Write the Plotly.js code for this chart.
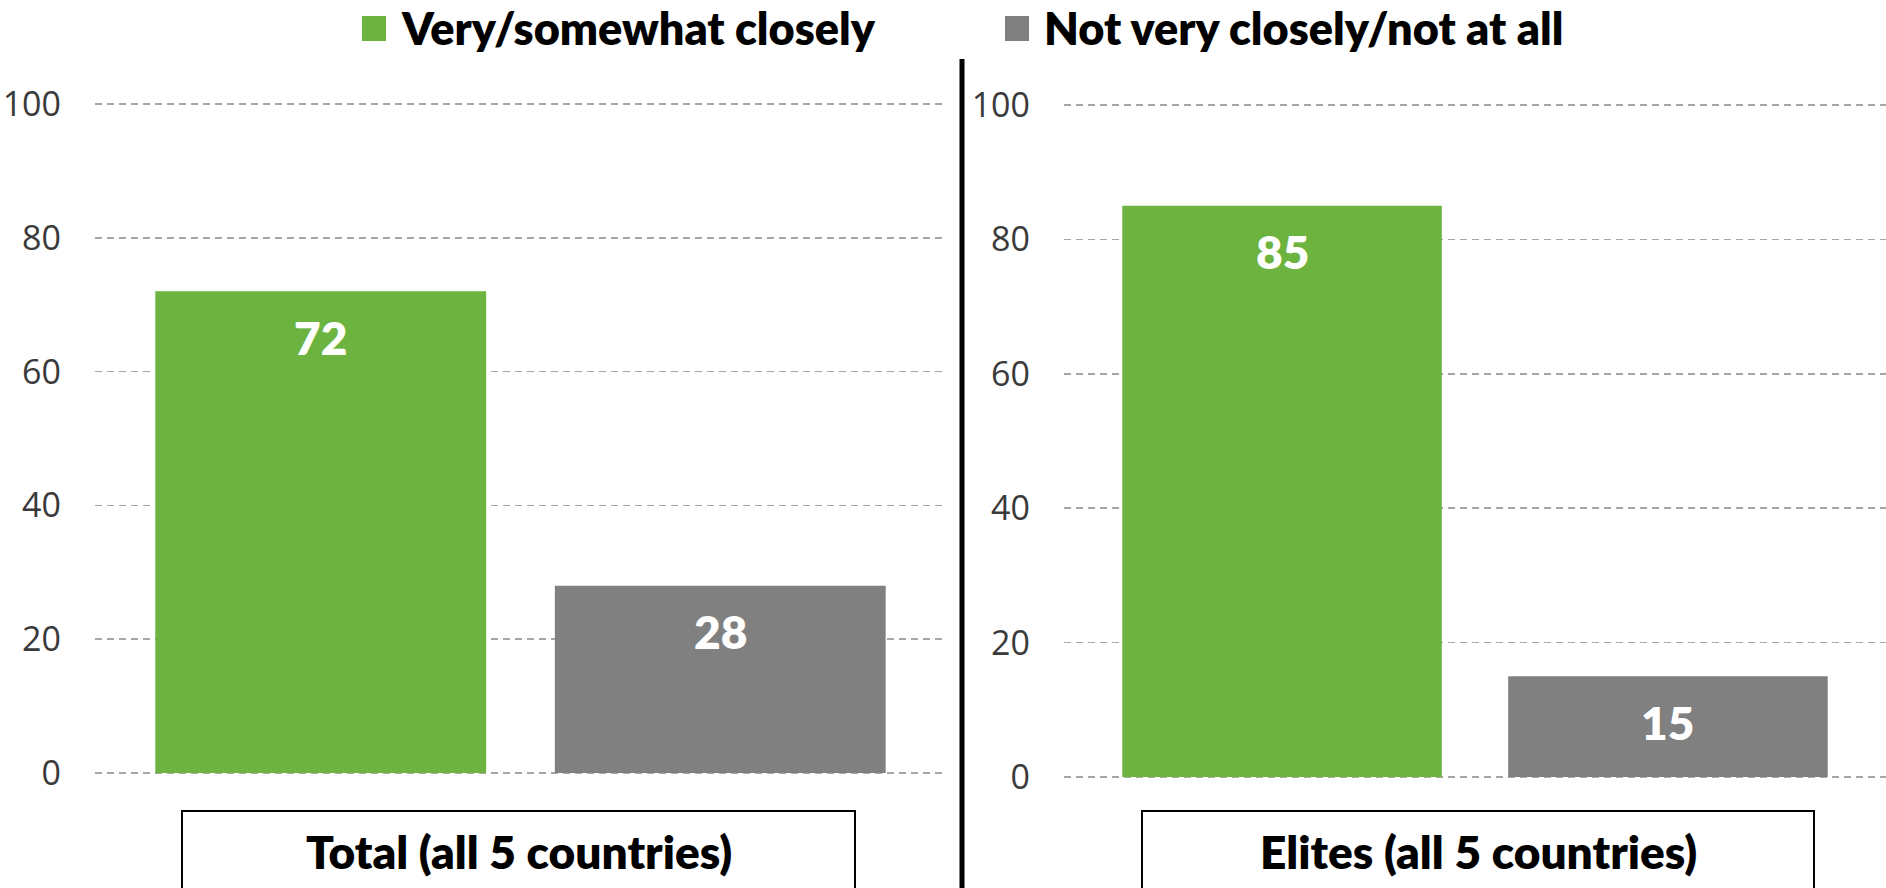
<!DOCTYPE html>
<html>
<head>
<meta charset="utf-8">
<script src="https://cdn.plot.ly/plotly-3.0.1.min.js"></script>
<style>
  html, body { margin: 0; padding: 0; background: #ffffff; }
  #chart { width: 1886px; height: 888px; }
</style>
</head>
<body>
<div id="chart"></div>
<script>
// ---- Data ----
const seriesNames = ["Very/somewhat closely", "Not very closely/not at all"];
const seriesColors = ["#6cb33f", "#808080"];
const groupLabels = ["Total (all 5 countries)", "Elites (all 5 countries)"];
const totalValues = [72, 28];
const eliteValues = [85, 15];
const yTickValues = [0, 20, 40, 60, 80, 100];

// ---- Layout helpers ----
const W = 1886, H = 888;
const px = v => v / W;          // x pixel -> paper
const py = v => 1 - v / H;      // y pixel -> paper

const panels = [
  { values: totalValues, xa: "x",  ya: "y"  },
  { values: eliteValues, xa: "x2", ya: "y2" }
];

const traces = [];
panels.forEach((p, pi) => {
  seriesNames.forEach((name, si) => {
    traces.push({
      type: "bar",
      name: name,
      x: [name],
      y: [p.values[si]],
      xaxis: p.xa,
      yaxis: p.ya,
      marker: { color: seriesColors[si] },
      showlegend: false,
      hoverinfo: "skip"
    });
  });
});

const boldFont = "Lato, 'Open Sans', sans-serif";

const annotations = [];
// value labels inside bars
panels.forEach(p => {
  seriesNames.forEach((name, si) => {
    annotations.push({
      xref: p.xa, yref: p.ya,
      x: name, y: p.values[si],
      yshift: -46,
      yanchor: "middle", xanchor: "center",
      text: String(p.values[si]),
      showarrow: false,
      font: { family: boldFont, size: 46, color: "#ffffff", weight: 800 }
    });
  });
});

// category label boxes
const boxes = [
  { x0: 182, x1: 855 },
  { x0: 1142, x1: 1814 }
];
const shapes = [];
boxes.forEach((b, i) => {
  shapes.push({
    type: "rect", xref: "paper", yref: "paper",
    x0: px(b.x0), x1: px(b.x1), y0: py(892), y1: py(811),
    line: { color: "#000000", width: 2 }, fillcolor: "rgba(0,0,0,0)"
  });
  annotations.push({
    xref: "paper", yref: "paper",
    x: px((b.x0 + b.x1) / 2), y: py(851),
    xanchor: "center", yanchor: "middle",
    text: groupLabels[i], showarrow: false,
    font: { family: boldFont, size: 46, color: "#000000", weight: 800 }
  });
});

// divider
shapes.push({
  type: "line", xref: "paper", yref: "paper",
  x0: px(962), x1: px(962), y0: py(59), y1: py(890),
  line: { color: "#000000", width: 5 }
});

// manual legend
const legendItems = [
  { sq0: 362, text: 399 },
  { sq0: 1005, text: 1042 }
];
legendItems.forEach((li, i) => {
  shapes.push({
    type: "rect", xref: "paper", yref: "paper",
    x0: px(li.sq0), x1: px(li.sq0 + 24), y0: py(41), y1: py(16),
    line: { width: 0 }, fillcolor: seriesColors[i]
  });
  annotations.push({
    xref: "paper", yref: "paper",
    x: px(li.text), y: py(28),
    xanchor: "left", yanchor: "middle",
    text: seriesNames[i], showarrow: false,
    font: { family: boldFont, size: 45, color: "#000000", weight: 800 }
  });
});

const xAxisBase = {
  type: "category",
  categoryorder: "array",
  categoryarray: seriesNames,
  range: [-0.565, 1.565],
  showticklabels: false,
  showgrid: false,
  zeroline: false,
  showline: false,
  ticks: "",
  fixedrange: true
};
const yAxisBase = {
  range: [-0.3, 100.3],
  tickmode: "array",
  tickvals: yTickValues,
  ticktext: yTickValues.map(String),
  showgrid: true,
  gridcolor: "#a6a6a6",
  gridwidth: 1.5,
  griddash: "7px,5px",
  zeroline: false,
  showline: false,
  ticks: "",
  ticklabelstandoff: 33,
  tickfont: { family: "'Open Sans', sans-serif", size: 34, color: "#3a3a3a" },
  fixedrange: true
};

// pixel positions of value 0 and 100 for each panel; domain padded for range margin
function yDomain(p0, p100) {
  const per = (p0 - p100) / 100;
  return [py(p0 + 0.3 * per), py(p100 - 0.3 * per)];
}

const layout = {
  width: W, height: H,
  margin: { l: 0, r: 0, t: 0, b: 0, pad: 0 },
  paper_bgcolor: "#ffffff",
  plot_bgcolor: "#ffffff",
  barmode: "overlay",
  bargap: 0.172,
  showlegend: false,
  xaxis:  Object.assign({}, xAxisBase, { domain: [px(95), px(946)], anchor: "y" }),
  xaxis2: Object.assign({}, xAxisBase, { domain: [px(1064), 1], anchor: "y2" }),
  yaxis:  Object.assign({}, yAxisBase, { domain: yDomain(773, 104), anchor: "x" }),
  yaxis2: Object.assign({}, yAxisBase, { domain: yDomain(777, 105), anchor: "x2" }),
  shapes: shapes,
  annotations: annotations
};

Plotly.newPlot("chart", traces, layout, { displayModeBar: false, staticPlot: true });
</script>
</body>
</html>
